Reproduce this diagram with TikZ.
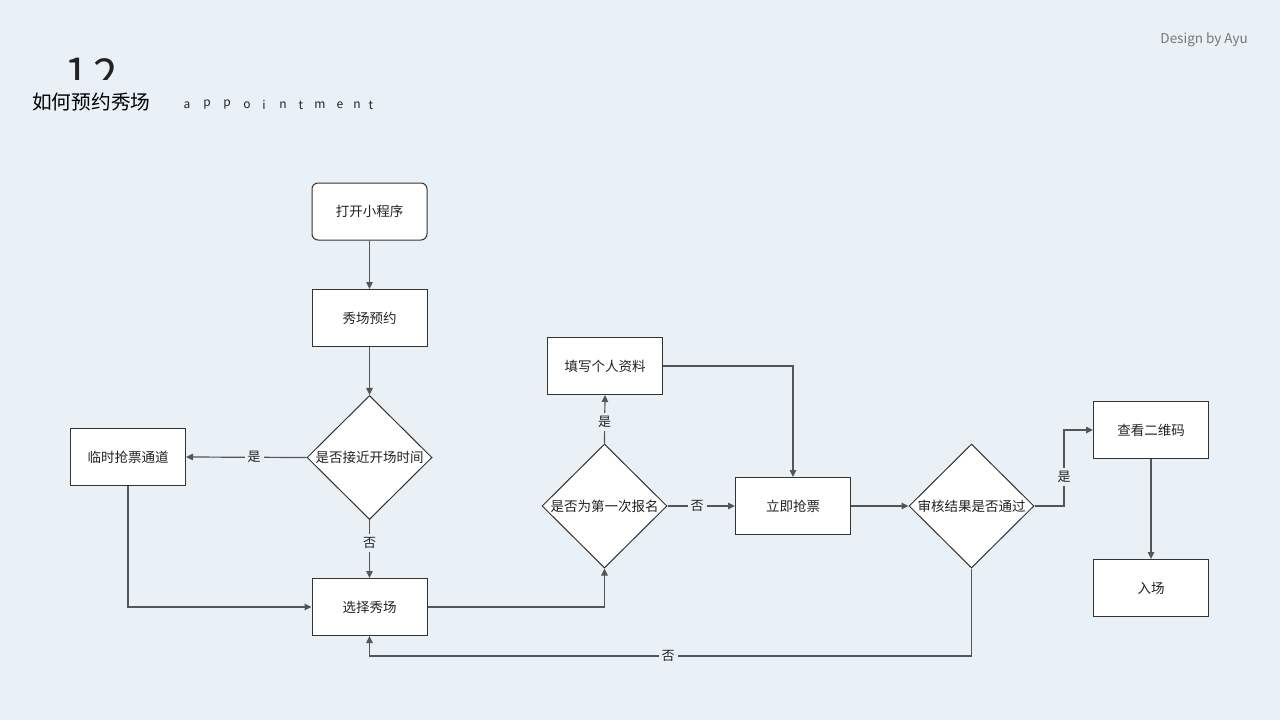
\documentclass[tikz,border=0pt]{standalone}
\usepackage{fontspec}
\setmainfont{Noto Sans CJK SC}
\usetikzlibrary{arrows.meta,shapes.geometric}
\definecolor{bg}{HTML}{E9F0F6}
\definecolor{edge}{HTML}{555555}
\definecolor{frame}{HTML}{333333}
\definecolor{ink}{HTML}{222222}
\definecolor{soft}{HTML}{777777}
\begin{document}
\begin{tikzpicture}[x=1pt,y=-1pt,
  boxnode/.style={draw=frame,line width=1pt,fill=white,minimum width=115pt,minimum height=57pt,inner sep=0pt,text=ink,font=\fontsize{13.5}{16}\selectfont},
  roundnode/.style={boxnode,rounded corners=6pt},
  decide/.style={draw=frame,line width=1pt,fill=white,shape=diamond,minimum width=125pt,minimum height=124pt,inner sep=0pt,text=ink,font=\fontsize{13.5}{16}\selectfont},
  arr/.style={draw=edge,line width=1.2pt,-{Triangle[width=6.5pt,length=7pt]}},
  lbl/.style={fill=bg,inner sep=3pt,text=ink,font=\fontsize{13}{15}\selectfont},
  digit/.style={anchor=north,inner sep=0pt,text=ink,font=\fontsize{44}{50}\selectfont}
]
\fill[bg] (0,0) rectangle (1280,720);
\useasboundingbox (0,0) rectangle (1280,720);

% header
\begin{scope}
\clip (0,0) rectangle (300,79.5);
\node[digit] (num1) at (77,58) {1};
\node[digit] (num2) at (106,58) {2};
\end{scope}
\node[anchor=west,inner sep=0pt,text=black,font=\fontsize{19.7}{22}\selectfont] (title) at (32,102) {如何预约秀场};
\foreach \ch/\xx [count=\i] in {a/187,p/207,p/227,o/247,i/264,n/283,t/301,m/320,e/340,n/357,t/371}
  \node[inner sep=0pt,text=ink,font=\fontsize{12}{14}\selectfont] (ap\i) at (\xx,105) {\ch};
\node[anchor=east,inner sep=0pt,text=soft,font=\fontsize{13.5}{15}\selectfont] (credit) at (1248,40) {Design by Ayu};

% nodes
\node[roundnode] (open) at (369.5,211.5) {打开小程序};
\node[boxnode] (book) at (369.5,318) {秀场预约};
\node[decide] (d1) at (369.5,457.5) {是否接近开场时间};
\node[boxnode] (temp) at (128,457) {临时抢票通道};
\node[boxnode] (select) at (369.5,607) {选择秀场};
\node[decide] (d2) at (604.5,506) {是否为第一次报名};
\node[boxnode] (form) at (605,366) {填写个人资料};
\node[boxnode] (grab) at (793,506) {立即抢票};
\node[decide] (d3) at (971.5,506) {审核结果是否通过};
\node[boxnode] (qr) at (1151,430) {查看二维码};
\node[boxnode] (enter) at (1151,588) {入场};
\coordinate (c1) at (1064,506);
\coordinate (c2) at (971.5,656);

% connectors
\draw[arr] (open) -- (book);
\draw[arr] (book) -- (d1);
\draw[arr] (d1.west) -- (temp.east);
\draw[arr] (d1.south) -- (select.north);
\draw[arr] (temp.south) |- (select.west);
\draw[arr] (select.east) -| (d2.south);
\draw[arr] (d2.north) -- (form.south);
\draw[arr] (form.east) -| (grab.north);
\draw[arr] (d2.east) -- (grab.west);
\draw[arr] (grab.east) -- (d3.west);
\draw[arr] (d3.east) -- (c1) |- (qr.west);
\draw[arr] (qr) -- (enter);
\draw[arr] (d3.south) -- (c2) -| (select.south);

% labels
\node[lbl] (y1) at (254,457) {是};
\node[lbl] (n1) at (369.5,543) {否};
\node[lbl] (y2) at (604.5,422) {是};
\node[lbl] (n2) at (697,506) {否};
\node[lbl] (y3) at (1064,477) {是};
\node[lbl] (n3) at (668,656) {否};
\end{tikzpicture}
\end{document}
